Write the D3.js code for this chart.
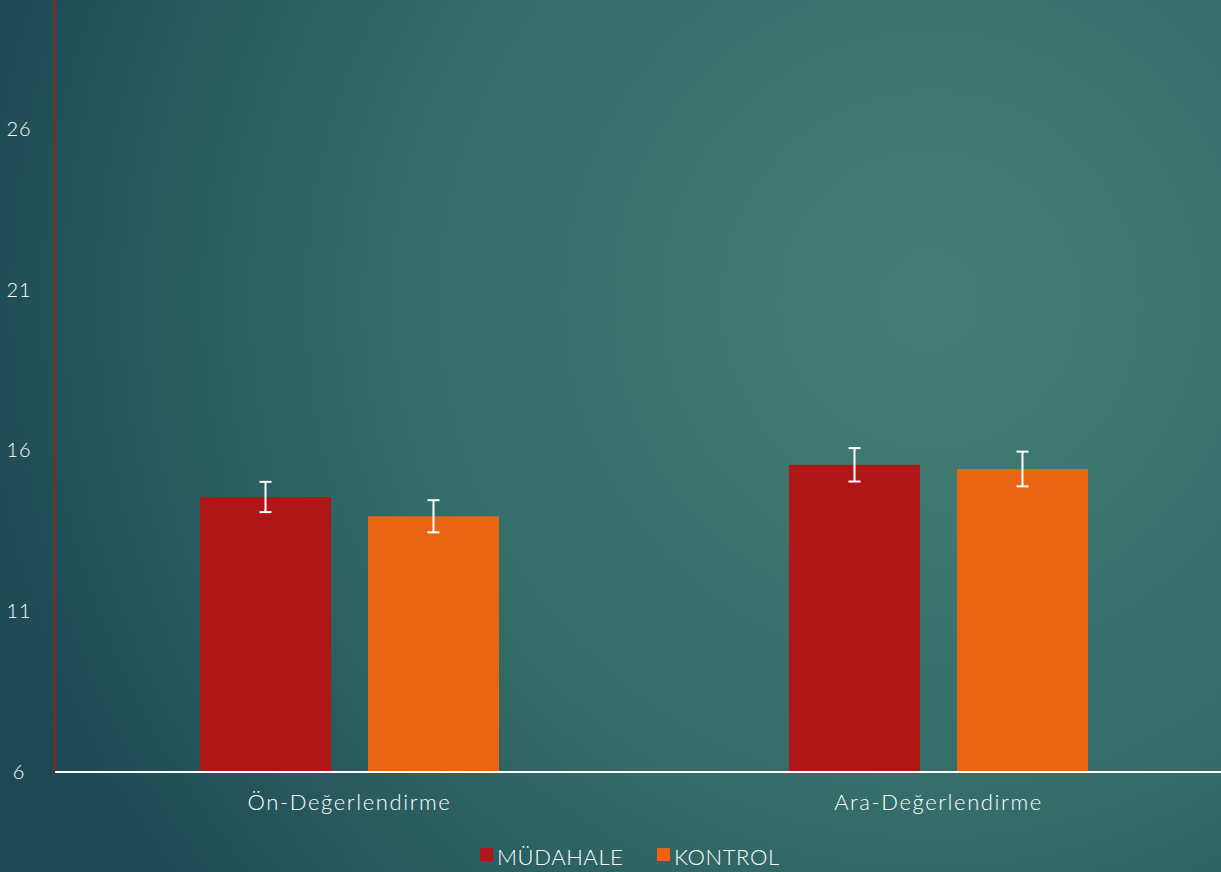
<!DOCTYPE html>
<html>
<head>
<meta charset="utf-8">
<script src="https://cdn.jsdelivr.net/npm/d3@7"></script>
<style>
  body { margin: 0; overflow: hidden; }
  text { font-family: "Lato", "Open Sans", sans-serif; font-weight: 300; fill: #ffffff; }
</style>
</head>
<body>
<div id="chart"></div>
<script>
// data
var categories = ['Ön-Değerlendirme', 'Ara-Değerlendirme']
var series = ['MÜDAHALE', 'KONTROL']
var mudahale = [14.55, 15.55]
var kontrol = [13.95, 15.42]
var mudahaleErr = [0.47, 0.52]
var kontrolErr = [0.5, 0.54]
var yTicks = [6, 11, 16, 21, 26]

var colors = ['#af1616', '#e96513']
var chart_width = 1221
var chart_height = 872

var svg = d3.select('#chart')
    .append('svg')
    .attr('width', chart_width)
    .attr('height', chart_height)

// background gradient
var defs = svg.append('defs')
var grad = defs.append('radialGradient')
    .attr('id', 'bg')
    .attr('gradientUnits', 'userSpaceOnUse')
    .attr('cx', 930).attr('cy', 300).attr('r', 1000)
grad.append('stop').attr('offset', '0%').attr('stop-color', '#437f74')
grad.append('stop').attr('offset', '55%').attr('stop-color', '#336b68')
grad.append('stop').attr('offset', '100%').attr('stop-color', '#1d4854')
svg.append('rect')
    .attr('width', chart_width)
    .attr('height', chart_height)
    .attr('fill', 'url(#bg)')

var y = d3.scaleLinear().domain([6, 30]).range([772, 0])
var x0 = d3.scaleBand().domain(categories).range([55, 1233])
var x1 = d3.scaleBand().domain(series).range([145, 444]).paddingInner(0.22)

var rows = categories.map(function(c, i){
    return [
        {cat: c, s: series[0], v: mudahale[i], e: mudahaleErr[i], col: colors[0]},
        {cat: c, s: series[1], v: kontrol[i], e: kontrolErr[i], col: colors[1]}
    ]
})
var flat = [].concat.apply([], rows)

// y tick labels
svg.selectAll('.ytick')
    .data(yTicks)
    .enter()
    .append('text')
    .attr('class', 'ytick')
    .attr('x', 19)
    .attr('y', function(d){ return y(d) + 7 })
    .attr('text-anchor', 'middle')
    .attr('font-size', 20)
    .attr('letter-spacing', 1)
    .text(function(d){ return d })

// bars
svg.selectAll('.bar')
    .data(flat)
    .enter()
    .append('rect')
    .attr('class', 'bar')
    .attr('x', function(d){ return x0(d.cat) + x1(d.s) })
    .attr('y', function(d){ return y(d.v) })
    .attr('width', x1.bandwidth())
    .attr('height', function(d){ return y(6) - y(d.v) })
    .style('fill', function(d){ return d.col })

// error bars
var eb = svg.selectAll('.err')
    .data(flat)
    .enter()
    .append('g')
    .attr('class', 'err')
    .attr('stroke', '#ffffff')
    .attr('stroke-width', 2)
eb.append('line')
    .attr('x1', function(d){ return x0(d.cat) + x1(d.s) + x1.bandwidth() / 2 })
    .attr('x2', function(d){ return x0(d.cat) + x1(d.s) + x1.bandwidth() / 2 })
    .attr('y1', function(d){ return y(d.v + d.e) })
    .attr('y2', function(d){ return y(d.v - d.e) })
eb.selectAll('.cap')
    .data(function(d){ return [d.v + d.e, d.v - d.e].map(function(v){ return {v: v, d: d} }) })
    .enter()
    .append('line')
    .attr('x1', function(c){ return x0(c.d.cat) + x1(c.d.s) + x1.bandwidth() / 2 - 6 })
    .attr('x2', function(c){ return x0(c.d.cat) + x1(c.d.s) + x1.bandwidth() / 2 + 6 })
    .attr('y1', function(c){ return y(c.v) })
    .attr('y2', function(c){ return y(c.v) })

// axes lines
svg.append('line')
    .attr('x1', 55).attr('x2', chart_width)
    .attr('y1', y(6)).attr('y2', y(6))
    .attr('stroke', '#ffffff').attr('stroke-width', 2)
svg.append('line')
    .attr('x1', 54.5).attr('x2', 54.5)
    .attr('y1', 0).attr('y2', y(6))
    .attr('stroke', '#b01818').attr('stroke-width', 1.5)

// category labels
svg.selectAll('.cat')
    .data(categories)
    .enter()
    .append('text')
    .attr('class', 'cat')
    .attr('x', function(d){ return x0(d) + 145 + 299 / 2 })
    .attr('y', 810)
    .attr('text-anchor', 'middle')
    .attr('font-size', 22)
    .attr('letter-spacing', 1.6)
    .text(function(d){ return d })

// legend
var legX = [480, 657]
var leg = svg.selectAll('.leg')
    .data(series)
    .enter()
    .append('g')
    .attr('class', 'leg')
    .attr('transform', function(d, i){ return 'translate(' + legX[i] + ',848)' })
leg.append('rect')
    .attr('width', 13).attr('height', 13)
    .style('fill', function(d, i){ return colors[i] })
leg.append('text')
    .attr('x', 17)
    .attr('y', 17)
    .attr('font-size', 22)
    .attr('letter-spacing', 0.6)
    .text(function(d){ return d })
</script>
</body>
</html>
